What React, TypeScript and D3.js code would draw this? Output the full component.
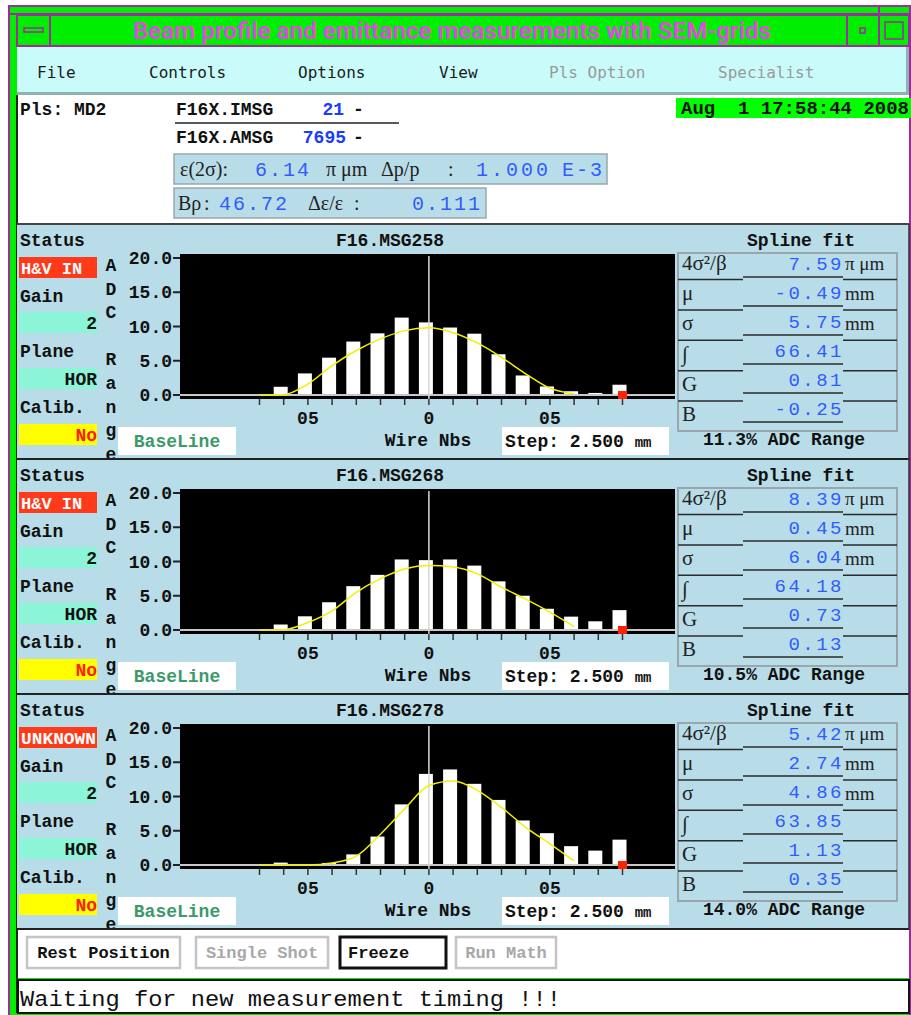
import * as d3 from 'd3'

// wire numbers on the SEM grid and the points of the spline fit
const wires = [-7, -6, -5, -4, -3, -2, -1, 0, 1, 2, 3, 4, 5, 6, 7, 8]
const fitWires = [-7, -6, -5, -4, -3, -2, -1, 0, 1, 2, 3, 4, 5, 6]

const grids = ['F16.MSG258', 'F16.MSG268', 'F16.MSG278']
const gridStatus = ['H&V IN', 'H&V IN', 'UNKNOWN']
const gridGain = ['2', '2', '2']
const gridPlane = ['HOR', 'HOR', 'HOR']
const gridCalib = ['No', 'No', 'No']
const adcRange = ['11.3%', '10.5%', '14.0%']

// measured profiles (ADC counts per wire)
const profile258 = [0, 1.2, 3.15, 5.45, 7.8, 9.0, 11.3, 10.6, 9.85, 8.95, 5.95, 2.85, 1.25, 0.55, 0.3, 1.5]
const profile268 = [0, 0.8, 2.0, 4.05, 6.4, 8.05, 10.3, 10.2, 10.3, 9.4, 7.1, 5.0, 3.1, 1.95, 1.27, 2.9]
const profile278 = [0, 0.35, 0, 0.3, 1.55, 4.15, 8.85, 13.3, 13.95, 11.85, 9.5, 6.5, 4.65, 2.75, 2.1, 3.7]

// spline fit curves
const fit258 = [0, 0.05, 1.6, 4.3, 6.5, 8.2, 9.4, 9.8, 9.1, 7.6, 5.5, 3.1, 1.0, 0.15]
const fit268 = [0, 0.05, 1.1, 2.8, 5.5, 7.5, 8.9, 9.4, 9.2, 8.2, 6.25, 4.5, 2.6, 0.5]
const fit278 = [0, 0, 0, 0.3, 1.3, 4.5, 8.2, 11.6, 12.25, 10.9, 8.4, 5.5, 3.1, 0.6]

const paramLabels = ['4σ²/β', 'μ', 'σ', '∫', 'G', 'B']
const paramUnits = ['π μm', 'mm', 'mm', '', '', '']
const params258 = ['7.59', '-0.49', '5.75', '66.41', '0.81', '-0.25']
const params268 = ['8.39', '0.45', '6.04', '64.18', '0.73', '0.13']
const params278 = ['5.42', '2.74', '4.86', '63.85', '1.13', '0.35']

const yTicks = [0, 5, 10, 15, 20]
const xTickWires = [-5, 0, 5]
const xTickLabels = ['05', '0', '05']

const menuItems = ['File', 'Controls', 'Options', 'View', 'Pls Option', 'Specialist']
const menuEnabled = [true, true, true, true, false, false]
const buttons = ['Rest Position', 'Single Shot', 'Freeze', 'Run Math']
const buttonEnabled = [true, false, true, false]

const profiles = [profile258, profile268, profile278]
const fits = [fit258, fit268, fit278]
const params = [params258, params268, params278]

const PURPLE = '#a02aa0'
const GREEN = '#00ee00'
const PANEL = '#b9dde8'
const BLUE = '#2f5cff'
const MONO = "'Liberation Mono', 'DejaVu Sans Mono', monospace"
const SERIF = "'Liberation Serif', 'DejaVu Serif', serif"

const bold = { fontFamily: MONO, fontWeight: 700, fontSize: 18, fill: '#111' }

function GridPanel({ idx, top }: { idx: number; top: number }) {
  const x = d3.scaleLinear().domain([-7, 8]).range([259.5, 622.5])
  const y = d3.scaleLinear().domain([0, 20]).range([170, 33])
  const fitLine = d3.line<number>()
    .x((_, i) => x(fitWires[i]))
    .y(d => y(d))
    .curve(d3.curveMonotoneX)
  const clipId = `panel-clip-${idx}`
  const letters = 'ADC Range'.split('')

  return (
    <g transform={`translate(0,${top})`}>
      <defs>
        <clipPath id={clipId}>
          <rect x={17} y={0} width={892} height={233} />
        </clipPath>
      </defs>
      <g clipPath={`url(#${clipId})`}>
        <rect x={17} y={0} width={892} height={234} fill={PANEL} />

        {/* status column */}
        <text x={20} y={21} style={bold}>Status</text>
        <rect x={19} y={32} width={78} height={21} fill="#ff3a1a" />
        <text x={21} y={49} style={{ ...bold, fill: '#fff', fontSize: 17 }}
          textLength={gridStatus[idx].length > 6 ? 75 : undefined}
          lengthAdjust="spacingAndGlyphs">{gridStatus[idx]}</text>
        <text x={20} y={77} style={bold}>Gain</text>
        <rect x={19} y={87} width={78} height={21} fill="#8cf5d8" />
        <text x={97} y={104} textAnchor="end" style={bold}>{gridGain[idx]}</text>
        <text x={20} y={132} style={bold}>Plane</text>
        <rect x={19} y={143} width={78} height={21} fill="#8cf5d8" />
        <text x={97} y={160} textAnchor="end" style={bold}>{gridPlane[idx]}</text>
        <text x={20} y={188} style={bold}>Calib.</text>
        <rect x={19} y={199} width={78} height={21} fill="#ffff00" />
        <text x={97} y={216} textAnchor="end" style={{ ...bold, fill: '#ff2000' }}>{gridCalib[idx]}</text>
        {letters.map((c, i) => (
          <text key={i} x={111} y={46 + 23.6 * i} textAnchor="middle" style={bold}>{c}</text>
        ))}

        {/* profile plot */}
        <text x={390} y={21} textAnchor="middle" style={bold}>{grids[idx]}</text>
        <rect x={180} y={29} width={495} height={145} fill="#000" />
        {yTicks.map(t => (
          <g key={t}>
            <line x1={173} x2={180} y1={y(t)} y2={y(t)} stroke="#222" strokeWidth={2} />
            <text x={172} y={y(t) + 6} textAnchor="end" style={bold}>{t.toFixed(1)}</text>
          </g>
        ))}
        {profiles[idx].map((v, i) => (
          <rect key={i} x={x(wires[i]) - 10} y={y(v)} width={14}
            height={y(0) - y(v)} fill="#fff" />
        ))}
        <line x1={180} x2={675} y1={y(0)} y2={y(0)} stroke="#c8c8c8" strokeWidth={2} />
        <line x1={x(0)} x2={x(0)} y1={31} y2={176} stroke="#d8d8d8" strokeWidth={1.5} />
        <path d={fitLine(fits[idx]) || ''} fill="none" stroke="#f4f000" strokeWidth={1.5} />
        <rect x={x(8) - 4.5} y={166} width={9} height={8} fill="#ff2200" />
        {wires.map(w => (
          <line key={w} x1={x(w)} x2={x(w)} y1={174} y2={180} stroke="#333" strokeWidth={1.5} />
        ))}
        {xTickWires.map((w, i) => (
          <text key={w} x={x(w)} y={199} textAnchor="middle" style={bold}>{xTickLabels[i]}</text>
        ))}

        <rect x={118} y={202} width={118} height={28} fill="#fff" />
        <text x={177} y={222} textAnchor="middle" style={{ ...bold, fill: '#3c9a6a' }}>BaseLine</text>
        <text x={428} y={221} textAnchor="middle" style={bold}>Wire Nbs</text>
        <rect x={502} y={202} width={167} height={28} fill="#fff" />
        <text x={505} y={222} style={bold}>Step: 2.500 <tspan style={{ fontSize: 14 }}>mm</tspan></text>

        {/* spline fit table */}
        <text x={801} y={21} textAnchor="middle" style={bold}>Spline fit</text>
        <rect x={678} y={28} width={219} height={178} fill="none" stroke="#9aa6ad" strokeWidth={2} />
        {[0, 1, 2, 3, 4].map(i => (
          <g key={i}>
            <line x1={678} x2={743} y1={54.5 + 30.4 * i} y2={54.5 + 30.4 * i} stroke="#2a2a2a" strokeWidth={1.5} />
            <line x1={843} x2={897} y1={54.5 + 30.4 * i} y2={54.5 + 30.4 * i} stroke="#2a2a2a" strokeWidth={1.5} />
          </g>
        ))}
        {paramLabels.map((lab, i) => (
          <g key={lab}>
            <line x1={743} x2={843} y1={52 + 29 * i} y2={52 + 29 * i} stroke="#2a2a2a" strokeWidth={1.5} />
            <text x={682} y={45 + 30.2 * i} style={{ fontFamily: SERIF, fontSize: 21, fill: '#222' }}>{lab}</text>
            <text x={844} y={45 + 29 * i} textAnchor="end"
              style={{ fontFamily: MONO, fontSize: 19, letterSpacing: 2.5, fill: BLUE }}>{params[idx][i]}</text>
            <text x={845} y={45 + 30.2 * i} style={{ fontFamily: SERIF, fontSize: 19, fill: '#222' }}>{paramUnits[i]}</text>
          </g>
        ))}
        <text x={784} y={220} textAnchor="middle" style={bold}>{adcRange[idx]} ADC Range</text>
      </g>
    </g>
  )
}

export default function App() {
  const menuX = [37, 149, 298, 439, 549, 718]
  const btnBox = [[27, 153], [196, 132], [340, 106], [456, 100]]
  const panelTops = [225, 460, 695]

  return (
    <svg width={911} height={1015} style={{ position: 'absolute', left: 0, top: 0, background: '#fff' }}
      fontFamily={MONO}>
      {/* window frame */}
      <rect x={8} y={5} width={903} height={1010} fill={PURPLE} />
      <rect x={10} y={7} width={901} height={1008} fill={GREEN} />
      <line x1={10} x2={911} y1={14} y2={14} stroke={PURPLE} strokeWidth={2} />
      <rect x={17} y={15} width={892} height={31} fill={GREEN} stroke={PURPLE} strokeWidth={2} />
      <line x1={50} x2={50} y1={14} y2={46} stroke={PURPLE} strokeWidth={2} />
      <line x1={847} x2={847} y1={14} y2={46} stroke={PURPLE} strokeWidth={2} />
      <line x1={879} x2={879} y1={6} y2={46} stroke={PURPLE} strokeWidth={2} />
      <line x1={910} x2={910} y1={6} y2={1015} stroke={PURPLE} strokeWidth={2} />
      <rect x={24} y={28} width={19} height={4} fill="none" stroke={PURPLE} strokeWidth={1.5} />
      <rect x={860} y={28} width={5} height={5} fill="none" stroke={PURPLE} strokeWidth={1.5} />
      <rect x={885} y={22} width={18} height={17} fill="none" stroke={PURPLE} strokeWidth={1.5} />
      <text x={452} y={39} textAnchor="middle" textLength={638} lengthAdjust="spacingAndGlyphs"
        style={{ fontFamily: "'Liberation Sans Narrow', 'Roboto', sans-serif", fontWeight: 600, fontSize: 24, fill: '#e448e4' }}>
        Beam profile and emittance measurements with SEM-grids
      </text>

      {/* menu bar */}
      <rect x={17} y={47} width={892} height={48} fill="#c9fbfb" />
      <rect x={17} y={92} width={892} height={3} fill="#8fb3b3" />
      <rect x={906} y={47} width={3} height={48} fill="#8fb3b3" />
      {menuItems.map((m, i) => (
        <text key={m} x={menuX[i]} y={78}
          style={{ fontFamily: "'DejaVu Sans Mono', monospace", fontSize: 16, fill: menuEnabled[i] ? '#1a1a1a' : '#9a9a9a' }}>{m}</text>
      ))}

      {/* info area */}
      <rect x={17} y={95} width={892} height={130} fill="#fff" />
      <line x1={17} x2={17} y1={95} y2={1013} stroke="#222" strokeWidth={2} />
      <text x={20} y={115} style={bold}>Pls: MD2</text>
      <text x={176} y={115} style={bold}>F16X.IMSG</text>
      <text x={344} y={115} textAnchor="end" style={{ ...bold, fill: '#1a3cff' }}>21</text>
      <text x={353} y={115} style={bold}>-</text>
      <line x1={175} x2={399} y1={123} y2={123} stroke="#222" strokeWidth={1.5} />
      <text x={176} y={143} style={bold}>F16X.AMSG</text>
      <text x={346} y={143} textAnchor="end" style={{ ...bold, fill: '#1a3cff' }}>7695</text>
      <text x={353} y={143} style={bold}>-</text>

      <rect x={174} y={154} width={433} height={30} fill={PANEL} stroke="#9aa6ad" strokeWidth={1.5} />
      <text x={180} y={176} style={{ fontFamily: SERIF, fontSize: 20, fill: '#222' }}>ε(2σ):</text>
      <text x={255} y={176} style={{ fontFamily: MONO, fontSize: 20, letterSpacing: 2, fill: BLUE }}>6.14</text>
      <text x={326} y={176} style={{ fontFamily: SERIF, fontSize: 20, fill: '#222' }}>π μm</text>
      <text x={381} y={176} style={{ fontFamily: SERIF, fontSize: 20, fill: '#222' }}>Δp/p</text>
      <text x={448} y={176} style={{ fontFamily: SERIF, fontSize: 20, fill: '#222' }}>:</text>
      <text x={476} y={176} style={{ fontFamily: MONO, fontSize: 20, letterSpacing: 3, fill: BLUE }}>1.000</text>
      <text x={562} y={176} style={{ fontFamily: MONO, fontSize: 20, letterSpacing: 2, fill: BLUE }}>E-3</text>

      <rect x={174} y={188} width={312} height={30} fill={PANEL} stroke="#9aa6ad" strokeWidth={1.5} />
      <text x={178} y={210} style={{ fontFamily: SERIF, fontSize: 20, fill: '#222' }}>Bρ</text>
      <text x={204} y={210} style={{ fontFamily: SERIF, fontSize: 20, fill: '#222' }}>:</text>
      <text x={219} y={210} style={{ fontFamily: MONO, fontSize: 20, letterSpacing: 2, fill: BLUE }}>46.72</text>
      <text x={308} y={210} style={{ fontFamily: SERIF, fontSize: 20, fill: '#222' }}>Δε/ε</text>
      <text x={354} y={210} style={{ fontFamily: SERIF, fontSize: 20, fill: '#222' }}>:</text>
      <text x={412} y={210} style={{ fontFamily: MONO, fontSize: 20, letterSpacing: 2, fill: BLUE }}>0.111</text>

      <rect x={676} y={98} width={235} height={20} fill="#00ff00" />
      <text x={681} y={114} textLength={228} lengthAdjust="spacingAndGlyphs" style={bold}
        xmlSpace="preserve">Aug  1 17:58:44 2008</text>

      {/* grid panels */}
      <line x1={17} x2={909} y1={224} y2={224} stroke="#444" strokeWidth={2} />
      {panelTops.map((t, i) => (
        <g key={i}>
          <GridPanel idx={i} top={t} />
          <line x1={17} x2={909} y1={t + 234} y2={t + 234} stroke="#222" strokeWidth={2} />
        </g>
      ))}
      <line x1={909} x2={909} y1={224} y2={930} stroke="#333" strokeWidth={1.5} />

      {/* buttons */}
      <rect x={18} y={930} width={891} height={48} fill="#fff" />
      {buttons.map((b, i) => {
        const [bx, bw] = btnBox[i]
        const freeze = b === 'Freeze'
        return (
          <g key={b}>
            <rect x={bx} y={937} width={bw} height={31} fill="#fff"
              stroke={freeze ? '#111' : '#c4c4c4'} strokeWidth={freeze ? 3 : 2.5} />
            <text x={freeze ? bx + 8 : bx + bw / 2} y={958} textAnchor={freeze ? 'start' : 'middle'}
              style={{ ...bold, fontSize: 17, fill: buttonEnabled[i] ? '#111' : '#a8a8a8' }}>{b}</text>
          </g>
        )
      })}

      {/* status line */}
      <rect x={18} y={980} width={891} height={33} fill="#fff" stroke="#111" strokeWidth={2} />
      <text x={20} y={1006} textLength={541} lengthAdjust="spacingAndGlyphs"
        style={{ fontFamily: MONO, fontSize: 22, fill: '#111' }}>Waiting for new measurement timing !!!</text>
    </svg>
  )
}
